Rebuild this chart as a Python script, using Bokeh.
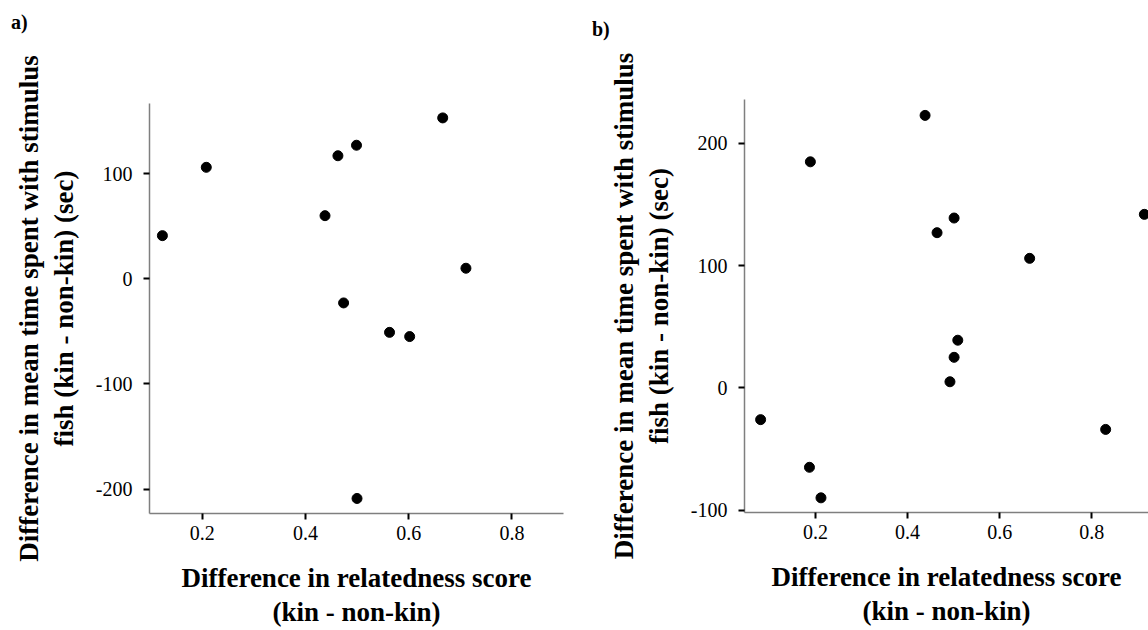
from bokeh.plotting import figure
from bokeh.layouts import row, column
from bokeh.models import Range1d, FixedTicker, Div
from bokeh.embed import file_html
from bokeh.resources import INLINE

# ---- data ----
# panel a
a_x = [0.123, 0.208, 0.438, 0.463, 0.499, 0.666, 0.711, 0.474, 0.563, 0.602, 0.500]
a_y = [41, 106, 60, 117, 127, 153, 10, -23, -51, -55, -209]
# panel b
b_x = [0.081, 0.187, 0.212, 0.189, 0.438, 0.464, 0.501, 0.509, 0.501, 0.492, 0.665, 0.830, 0.914]
b_y = [-26, -65, -90, 185, 223, 127, 139, 39, 25, 5, 106, -34, 142]

x_ticks = [0.2, 0.4, 0.6, 0.8]
x_tick_labels = ["0.2", "0.4", "0.6", "0.8"]
a_y_ticks = [-200, -100, 0, 100]
a_y_tick_labels = ["-200", "-100", "0", "100"]
b_y_ticks = [-100, 0, 100, 200]
b_y_tick_labels = ["-100", "0", "100", "200"]

x_label = "Difference in relatedness score\n(kin - non-kin)"
y_label = "Difference in mean time spent with stimulus\nfish (kin - non-kin) (sec)"
panel_labels = ["a)", "b)"]

SERIF = "Liberation Serif"
HEAD = 40


def style(p, xt, xtl, yt, ytl):
    p.xaxis.ticker = FixedTicker(ticks=xt)
    p.yaxis.ticker = FixedTicker(ticks=yt)
    p.xaxis.major_label_overrides = dict(zip(xt, xtl))
    p.yaxis.major_label_overrides = dict(zip(yt, ytl))
    p.xaxis.axis_label = x_label
    p.yaxis.axis_label = y_label
    for ax in (p.xaxis[0], p.yaxis[0]):
        ax.axis_line_color = "#7f7f7f"
        ax.axis_line_width = 1.5
        ax.major_tick_line_color = "black"
        ax.major_tick_line_width = 2
        ax.major_tick_in = 0
        ax.major_tick_out = 6
        ax.minor_tick_line_color = None
        ax.major_label_text_font = SERIF
        ax.major_label_text_font_size = "20px"
        ax.major_label_text_color = "black"
        ax.axis_label_text_font = SERIF
        ax.axis_label_text_font_style = "bold"
        ax.axis_label_text_font_size = "27px"
        ax.axis_label_text_color = "black"
        ax.axis_label_text_line_height = 1.15
    p.xaxis.major_label_standoff = 6
    p.yaxis.major_label_standoff = 11
    p.xaxis.axis_label_standoff = 20
    p.yaxis.axis_label_standoff = 14
    p.xgrid.visible = False
    p.ygrid.visible = False
    p.outline_line_color = None
    p.background_fill_color = "white"
    p.border_fill_color = "white"


def head(text, width, pad_left, pad_top):
    return Div(text=text, width=width, height=HEAD, margin=(0, 0, 0, 0),
               styles={"font-family": SERIF, "font-weight": "bold", "font-size": "20px",
                       "line-height": "20px", "color": "black",
                       "padding-left": f"{pad_left}px", "padding-top": f"{pad_top}px",
                       "box-sizing": "border-box"})


p1 = figure(width=590, height=630 - HEAD, output_backend="svg", toolbar_location=None,
            x_range=Range1d(0.098, 0.9), y_range=Range1d(-223.3, 166.7),
            min_border_left=149, min_border_right=27, min_border_top=103 - HEAD,
            min_border_bottom=114)
p1.scatter(a_x, a_y, size=10, color="black")
style(p1, x_ticks, x_tick_labels, a_y_ticks, a_y_tick_labels)

p2 = figure(width=558, height=630 - HEAD, output_backend="svg", toolbar_location=None,
            x_range=Range1d(0.046, 0.923), y_range=Range1d(-102, 236),
            min_border_left=154, min_border_right=0, min_border_top=99 - HEAD,
            min_border_bottom=118)
p2.scatter(b_x, b_y, size=10, color="black")
style(p2, x_ticks, x_tick_labels, b_y_ticks, b_y_tick_labels)

layout = row(column(head(panel_labels[0], 590, 11, 12), p1, spacing=0),
             column(head(panel_labels[1], 558, 2, 19), p2, spacing=0),
             spacing=0)
open("out.html", "w").write(file_html(layout, INLINE))
